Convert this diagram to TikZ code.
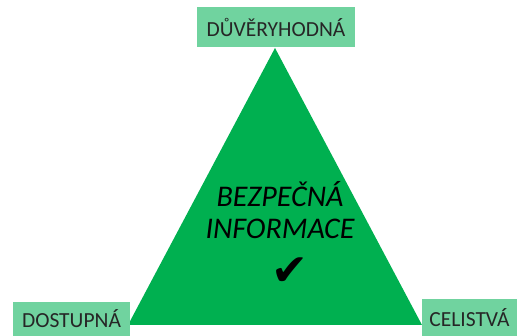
\documentclass[tikz,border=0pt]{standalone}
\usepackage{fontspec}
\setmainfont{Carlito}
\newfontfamily\symfont{DejaVu Sans}
\usetikzlibrary{positioning}
\definecolor{triGreen}{HTML}{00B050}
\definecolor{labGreen}{HTML}{70D39F}
\tikzset{
 label box/.style={fill=labGreen,inner sep=0pt,font=\fontsize{21.5}{24}\selectfont,
             text=black!85},
 big text/.style={font=\fontsize{30}{36}\selectfont\itshape,align=center}
}
\begin{document}
\begin{tikzpicture}[x=1pt,y=1pt]
\useasboundingbox (0,0) rectangle (517,336);
\coordinate (apex) at (275,288);
\coordinate (bl) at (128,11);
\coordinate (br) at (422,11);
\fill[triGreen] (apex)--(bl)--(br)--cycle;
\node[label box,minimum width=158,minimum height=40] (trust) at (276,309) {DŮVĚRYHODNÁ};
\node[label box,minimum width=117,minimum height=34] (avail) at (71.5,17) {DOSTUPNÁ};
\node[label box,minimum width=95,minimum height=37] (whole) at (469.5,18.5) {CELISTVÁ};
\node[big text] (info) at (280,126) {BEZPEČNÁ\\[-4pt]INFORMACE};
\node[font=\fontsize{44}{46}\symfont] (check) at (290,64) {✔};
\end{tikzpicture}
\end{document}
